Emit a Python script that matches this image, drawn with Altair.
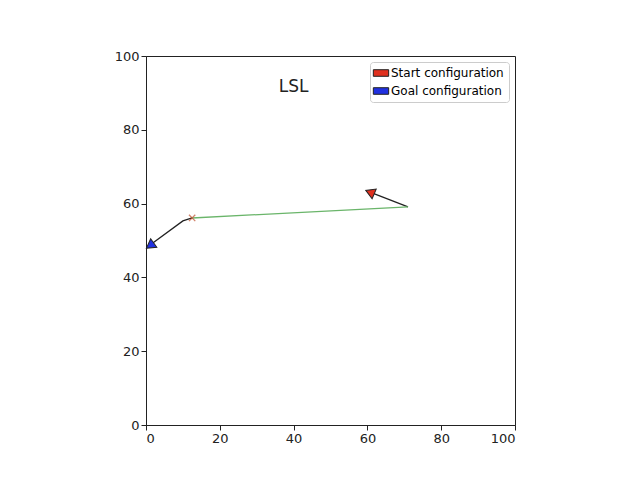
import altair as alt
import pandas as pd

# path pieces (data units)
turn1_x = [71.0, 60.7]
turn1_y = [59.1, 63.1]
straight_x = [71.0, 12.5]
straight_y = [59.1, 56.1]
turn2_x = [12.5, 10.0, 1.1]
turn2_y = [56.1, 55.3, 48.8]
cross_x = [12.5]
cross_y = [56.1]
config_names = ["Start configuration", "Goal configuration"]
config_x = [60.7, 1.1]
config_y = [63.1, 48.6]
config_angle = [293, 234]
config_colors = ["#e0301e", "#2030e0"]
title_text = "LSL"

FONT = "DejaVu Sans"
xs = alt.X("x:Q", scale=alt.Scale(domain=[0, 100], nice=False),
           axis=alt.Axis(values=[0, 20, 40, 60, 80, 100], grid=False, title=None))
ys = alt.Y("y:Q", scale=alt.Scale(domain=[0, 100], nice=False),
           axis=alt.Axis(values=[0, 20, 40, 60, 80, 100], grid=False, title=None))

def seg(x, y, color):
    df = pd.DataFrame({"x": x, "y": y, "i": range(len(x))})
    return alt.Chart(df).mark_line(color=color, strokeWidth=1.3).encode(
        x=xs, y=ys, order="i:Q")

turn1 = seg(turn1_x, turn1_y, "#222222")
straight = seg(straight_x, straight_y, "#6ab56a")
turn2 = seg(turn2_x, turn2_y, "#222222")

cross = alt.Chart(pd.DataFrame({"x": cross_x, "y": cross_y})).mark_point(
    shape="M-1,-1L1,1M-1,1L1,-1", color="#c0502c", size=40, strokeWidth=1.3, filled=False
).encode(x=xs, y=ys)

configs = alt.Chart(pd.DataFrame({
    "x": config_x, "y": config_y, "name": config_names, "angle": config_angle
})).mark_point(shape="triangle-up", filled=True, size=110, stroke="#222222",
               strokeWidth=1, opacity=1).encode(
    x=xs, y=ys,
    angle=alt.Angle("angle:Q", scale=None),
    color=alt.Color("name:N", scale=alt.Scale(domain=config_names, range=config_colors),
                    legend=alt.Legend(title=None, orient="top-right",
                                      symbolType="M-1.4,-0.6H1.4V0.6H-1.4Z",
                                      symbolSize=120, symbolStrokeColor="#222222",
                                      symbolStrokeWidth=1, labelFontSize=12,
                                      strokeColor="#cccccc", fillColor="white",
                                      padding=5, cornerRadius=3, labelFont=FONT,
                                      offset=6, rowPadding=6)),
)

title = alt.Chart(pd.DataFrame({"x": [40], "y": [91.5], "t": [title_text]})).mark_text(
    fontSize=17, font=FONT, color="#222222").encode(x=xs, y=ys, text="t:N")

chart = (turn1 + straight + turn2 + cross + configs + title).properties(
    width=369, height=369, padding={"left": 106, "top": 42, "right": 5, "bottom": 5}
).configure(font=FONT, background="white").configure_axis(
    labelFontSize=13, labelColor="#222222", domainColor="#222222",
    tickColor="#222222", tickSize=5
).configure_view(stroke="#222222")

chart.save("out.html", embed_options={"renderer": "svg", "actions": False})
